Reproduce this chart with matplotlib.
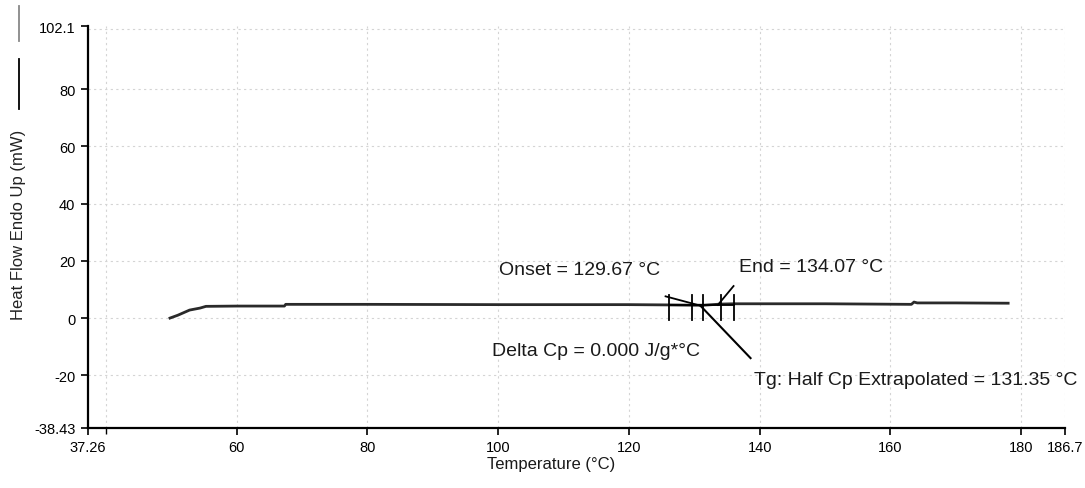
import matplotlib.pyplot as plt

# DSC heat flow trace
temperature = [49.8, 51.0, 52.8, 54.4, 55.3, 60.0, 67.3, 67.5, 80.0, 100.0, 120.0,
               126.0, 129.7, 131.4, 134.1, 136.0, 150.0, 163.2, 163.6, 164.1, 170.0, 178.0]
heat_flow = [0.0, 1.0, 2.8, 3.5, 4.1, 4.2, 4.2, 4.8, 4.8, 4.7, 4.7,
             4.6, 4.5, 4.5, 4.9, 5.0, 5.0, 4.8, 5.6, 5.3, 5.3, 5.2]

# glass transition analysis
tg_onset = 129.67
tg_end = 134.07
tg_half_cp = 131.35
delta_cp = 0.000
range_start = 126.1
range_stop = 136.0
onset_tangent_t = [125.6, 131.0]
onset_tangent_y = [7.6, 4.3]
end_tangent_t = [133.6, 136.0]
end_tangent_y = [4.6, 11.2]
pointer_t = [130.9, 138.6]
pointer_y = [4.4, -14.0]

xlim = (37.26, 186.7)
ylim = (-38.43, 102.1)
xticks = [37.26, 60, 80, 100, 120, 140, 160, 180, 186.7]
xtick_labels = ["37.26", "60", "80", "100", "120", "140", "160", "180", "186.7"]
yticks = [-38.43, -20, 0, 20, 40, 60, 80, 102.1]
ytick_labels = ["-38.43", "-20", "0", "20", "40", "60", "80", "102.1"]
xgrid = [40, 60, 80, 100, 120, 140, 160, 180, 186.7]
ygrid = [-20, 0, 20, 40, 60, 80, 101]

plt.rcParams['font.family'] = ['Liberation Sans', 'DejaVu Sans']

fig = plt.figure(figsize=(10.85, 4.89), dpi=100)
ax = fig.add_axes([0.0811, 0.1227, 0.9005, 0.8220])

for g in xgrid:
    ax.axvline(g, color='#d4d4d4', lw=0.8, ls=(0, (2, 3)), zorder=0)
for g in ygrid:
    ax.axhline(g, color='#d4d4d4', lw=0.8, ls=(0, (2, 3)), zorder=0)

ax.plot(temperature, heat_flow, color='#2a2a2a', lw=2.0, zorder=3)

# analysis construction
for t in [range_start, tg_onset, tg_half_cp, tg_end, range_stop]:
    ax.plot([t, t], [-0.5, 8.0], color='black', lw=1.3, zorder=4)
ax.plot([range_start, range_stop], [4.6, 4.6], color='black', lw=1.3, zorder=4)
ax.plot(onset_tangent_t, onset_tangent_y, color='black', lw=1.3, zorder=4)
ax.plot(end_tangent_t, end_tangent_y, color='black', lw=1.3, zorder=4)
ax.plot(pointer_t, pointer_y, color='black', lw=1.5, zorder=4)

lbl = dict(fontsize=14, color='#1a1a1a', zorder=5, va='center', ha='left')
ax.text(100.2, 17.1, f"Onset = {tg_onset:.2f} °C", **lbl)
ax.text(136.8, 18.1, f"End = {tg_end:.2f} °C", **lbl)
ax.text(99.1, -11.5, f"Delta Cp = {delta_cp:.3f} J/g*°C", **lbl)
ax.text(139.2, -21.6, f"Tg: Half Cp Extrapolated = {tg_half_cp:.2f} °C",
        clip_on=False, **lbl)

ax.set_xlim(*xlim)
ax.set_ylim(*ylim)
ax.set_xticks(xticks)
ax.set_xticklabels(xtick_labels)
ax.set_yticks(yticks)
ax.set_yticklabels(ytick_labels)
ax.set_xticks([40], minor=True)
ax.tick_params(axis='both', labelsize=10.5, length=5, width=1.2, color='black',
               direction='out', pad=4)
ax.tick_params(axis='x', which='minor', length=4, width=1.0)

ax.spines['top'].set_visible(False)
ax.spines['right'].set_visible(False)
ax.spines['left'].set_linewidth(1.6)
ax.spines['bottom'].set_linewidth(1.6)

fig.text(551 / 1085, 1 - 465 / 489, "Temperature (°C)", ha='center', va='center',
         fontsize=12, color='#1a1a1a')
fig.text(0.0175, 0.54, "Heat Flow Endo Up (mW)", rotation=90, ha='center', va='center',
         fontsize=12, color='#222222')
# series key next to the axis title
fig.lines.append(plt.Line2D([0.0175, 0.0175], [0.775, 0.877], transform=fig.transFigure,
                            color='black', lw=1.3))
fig.lines.append(plt.Line2D([0.0175, 0.0175], [0.914, 0.986], transform=fig.transFigure,
                            color='#888888', lw=1.3))

fig.savefig("out.png", dpi=100)
